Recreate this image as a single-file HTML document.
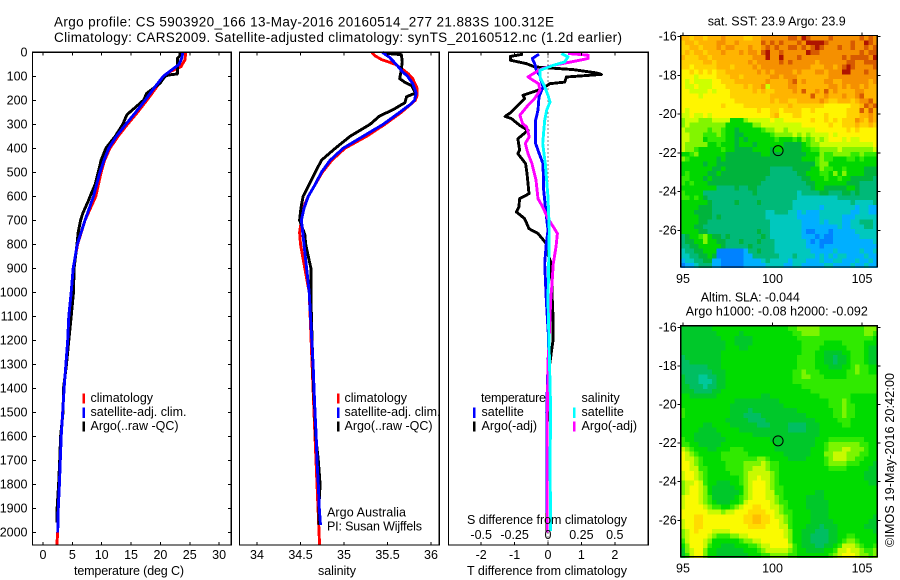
<!DOCTYPE html>
<html>
<head>
<meta charset="utf-8">
<title>Argo profile</title>
<style>
html,body{margin:0;padding:0;background:#fff}
svg{display:block}
text{font-family:"Liberation Sans",sans-serif;font-size:12.5px;fill:#000;dominant-baseline:central}
</style>
</head>
<body>
<svg id="chart" width="900" height="580" viewBox="0 0 900 580" xmlns="http://www.w3.org/2000/svg">
<rect x="0" y="0" width="900" height="580" fill="#fff"/>
<g id="maps"></g>
<g id="plots"></g>
<g id="axes"></g>
<text x="54" y="22" textLength="500" lengthAdjust="spacing" style="font-size:13.5px">Argo profile: CS 5903920_166 13-May-2016 20160514_277 21.883S 100.312E</text>
<text x="54" y="37.5" textLength="568" lengthAdjust="spacing" style="font-size:13.5px">Climatology: CARS2009. Satellite-adjusted climatology: synTS_20160512.nc (1.2d earlier)</text>
<text x="129" y="571" text-anchor="middle" textLength="110" lengthAdjust="spacing">temperature (deg C)</text>
<text x="337" y="571" text-anchor="middle" textLength="38" lengthAdjust="spacing">salinity</text>
<text x="547" y="571" text-anchor="middle" textLength="160" lengthAdjust="spacing">T difference from climatology</text>
<text x="547" y="520" text-anchor="middle" textLength="160" lengthAdjust="spacing">S difference from climatology</text>
<rect x="82.5" y="393.5" width="2.5" height="10" fill="#f00"/>
<rect x="82.5" y="407.5" width="2.5" height="10.5" fill="#00f"/>
<rect x="82.5" y="421.5" width="2.5" height="10" fill="#000"/>
<text x="90.5" y="398">climatology</text>
<text x="90.5" y="412" textLength="96" lengthAdjust="spacing">satellite-adj. clim.</text>
<text x="90.5" y="426" textLength="88" lengthAdjust="spacing">Argo(..raw -QC)</text>
<rect x="337" y="393.5" width="2.5" height="10" fill="#f00"/>
<rect x="337" y="407.5" width="2.5" height="10.5" fill="#00f"/>
<rect x="337" y="421.5" width="2.5" height="10" fill="#000"/>
<text x="344.5" y="398">climatology</text>
<text x="344.5" y="412" textLength="96" lengthAdjust="spacing">satellite-adj. clim.</text>
<text x="344.5" y="426" textLength="88" lengthAdjust="spacing">Argo(..raw -QC)</text>
<text x="327" y="512.5" textLength="79" lengthAdjust="spacing">Argo Australia</text>
<text x="327" y="526.5" textLength="95" lengthAdjust="spacing">PI: Susan Wijffels</text>
<text x="481" y="398" textLength="65" lengthAdjust="spacing">temperature</text>
<text x="481.5" y="412">satellite</text>
<text x="481.5" y="426">Argo(-adj)</text>
<text x="581.5" y="398">salinity</text>
<text x="581.5" y="412">satellite</text>
<text x="581.5" y="426">Argo(-adj)</text>
<rect x="473" y="407.5" width="2.5" height="10.5" fill="#00f"/>
<rect x="473" y="421.5" width="2.5" height="10" fill="#000"/>
<rect x="573" y="407.5" width="2.5" height="10.5" fill="#0ff"/>
<rect x="573" y="421.5" width="2.5" height="10" fill="#f0f"/>
<text x="776.7" y="21.7" text-anchor="middle" textLength="138" lengthAdjust="spacing">sat. SST: 23.9 Argo: 23.9</text>
<text x="750.3" y="297.3" text-anchor="middle" textLength="99" lengthAdjust="spacing">Altim. SLA: -0.044</text>
<text x="776.8" y="311.7" text-anchor="middle" textLength="182" lengthAdjust="spacing">Argo h1000: -0.08 h2000: -0.092</text>
<text transform="translate(890 460) rotate(-90)" text-anchor="middle" textLength="174" lengthAdjust="spacing">©IMOS 19-May-2016 20:42:00</text>
</svg>
<script>
// Axis ticks
const depthTicks = [0,100,200,300,400,500,600,700,800,900,1000,1100,1200,1300,1400,1500,1600,1700,1800,1900,2000];
const tempTicks = [0,5,10,15,20,25,30];
const salTicks = [34,34.5,35,35.5,36];
const tDiffTicks = [-2,-1,0,1,2];
const sDiffTicks = [-0.5,-0.25,0,0.25,0.5];
const lonTicks = [95,100,105];
const latTicks = [-16,-18,-20,-22,-24,-26];

// Temperature profiles
const climTempDepth = [0,30,60,80,100,150,200,250,300,350,400,450,500,600,700,800,900,1000,1200,1400,1600,1700,1800,1900,2000,2054];
const climTempValue = [24.3,24.2,23.5,21.7,20.6,19.2,17.7,16.1,14.4,12.8,11.4,10.5,9.9,9.0,7.15,5.9,5.15,4.8,4.2,3.6,3.1,2.85,2.7,2.5,2.5,2.35];
const argoTempDepth = [0,15,25,60,90,95,100,130,170,200,230,260,300,350,400,450,500,550,590,620,670,700,750,800,900,1000,1100,1200,1300,1400,1500,1600,1700,1800,1900,1960];
const argoTempValue = [23.3,23.3,22.9,22.9,22.9,21.3,20.8,19.9,17.7,17.1,15.7,14.3,13.6,12.3,10.7,9.9,9.4,8.9,8.2,7.7,6.8,6.4,6.0,5.8,5.3,5.2,4.8,4.4,4.0,3.5,3.4,3.0,2.85,2.65,2.4,2.4];
const satTempDepth = [0,20,50,70,100,150,200,250,300,350,400,450,500,600,700,800,900,1000,1100,1200,1300,1400,1500,1600,1700,1800,1900,2000];
const satTempValue = [23.8,23.7,23.2,22.1,20.5,18.9,17.4,15.8,14.1,12.5,11.2,10.4,9.7,8.6,7.15,5.85,5.15,4.8,4.4,4.2,3.9,3.6,3.35,3.1,2.95,2.8,2.6,2.5];

// Salinity profiles
const climSalDepth = [0,15,30,50,70,90,110,150,180,200,250,300,350,400,450,500,600,650,700,750,800,900,1000,1500,1800,2054];
const climSalValue = [35.32,35.36,35.43,35.59,35.67,35.74,35.79,35.84,35.84,35.82,35.66,35.47,35.26,35.01,34.86,34.75,34.59,34.53,34.51,34.49,34.5,34.55,34.6,34.655,34.69,34.72];
const argoSalDepth = [0,5,10,40,80,110,125,140,170,185,210,240,265,300,350,400,425,450,500,550,600,650,700,720,760,800,850,900,1000,1100,1400,1500,1600,1700,1800,1900,1970];
const argoSalValue = [35.49,35.5,35.66,35.67,35.655,35.64,35.7,35.78,35.82,35.72,35.7,35.56,35.41,35.3,35.07,34.9,34.82,34.74,34.67,34.6,34.53,34.505,34.49,34.51,34.55,34.56,34.59,34.62,34.62,34.625,34.65,34.665,34.675,34.705,34.725,34.71,34.71];
const satSalDepth = [0,20,50,80,100,130,170,200,215,250,300,350,400,450,500,550,600,650,700,750,800,900,1000,1100,1200,1300,1400,1500,1600,1700,1800,1900,1970];
const satSalValue = [35.44,35.52,35.6,35.67,35.73,35.79,35.83,35.81,35.77,35.64,35.45,35.22,34.99,34.84,34.74,34.67,34.59,34.54,34.51,34.525,34.54,34.57,34.6,34.615,34.63,34.645,34.655,34.667,34.68,34.69,34.705,34.716,34.73];

// Difference profiles
const argoTDiffDepth = [8,17,33,47,61,72,86,92,103,124,131,151,179,193,221,249,267,276,304,325,360,408,422,464,505,589,610,644,665,693,735,755,797,825,880,1033,1100,1200,1300,1400,1600,2000];
const argoTDiffValue = [-0.75,-1.13,-1.13,-0.65,-0.4,0.75,1.45,1.6,0.55,0.5,0.05,-0.15,-0.75,-0.7,-0.9,-1.1,-1.28,-1.1,-0.85,-0.6,-0.9,-0.85,-0.9,-0.67,-0.63,-0.57,-0.85,-0.87,-0.95,-0.7,-0.57,-0.3,-0.05,-0.05,0.1,0.13,0.15,0.15,0.05,0,-0.03,-0.03];
const satTDiffDepth = [8,26,47,75,96,144,186,241,283,380,415,464,575,658,741,797,880,1033,1200,1400,1500,2000];
const satTDiffValue = [-0.27,-0.47,-0.4,-0.35,-0.25,-0.15,-0.27,-0.3,-0.37,-0.37,-0.28,-0.15,-0.13,-0.07,0,-0.05,-0.1,-0.05,0.02,-0.02,-0.04,-0.02];
const argoSDiffDepth = [5,12,26,40,54,68,82,103,117,131,158,193,221,262,297,311,352,380,422,464,533,610,644,693,727,755,811,880,964,1033,1300,1500,2000];
const argoSDiffValue = [0.15,0.3,0.3,0.175,0.04,-0.04,-0.09,-0.15,-0.11,-0.07,-0.06,-0.1,-0.15,-0.21,-0.19,-0.16,-0.14,-0.17,-0.15,-0.12,-0.09,-0.075,-0.04,0,0.04,0.07,0.06,0.04,0.03,0.02,0,-0.005,-0.005];
const satSDiffDepth = [5,19,40,54,75,103,144,179,207,241,283,380,464,603,741,1033,1500,1700,1995];
const satSDiffValue = [0.1,0.15,0.125,0.04,-0.06,-0.06,-0.025,0,0.015,-0.01,-0.025,-0.04,-0.02,0,0.01,0,0.02,0.015,0.02];

// Argo float position
const floatLon = 100.312;
const floatLat = -21.883;

// Map colour levels (rows north to south, columns west to east)
const sstColors = ["#0082ff","#00afff","#00c8be","#00b978","#00b43c","#00d700","#32eb00","#82f500","#cdff00","#fff500","#ffd200","#ffb400","#f59000","#d75a00","#af1400"];
const slaColors = ["#0082ff","#00afff","#00c89a","#00be62","#00c82a","#00dc00","#30ea00","#7cf500","#c8fa00","#fafa00","#ffdc00","#ffbe00"];
const sstLevels = [
[11,11,10,11,11,10,11,11,11,12,11,11,11,11,10,10,11,11,12,12,12,12,12,12,13,13,12,14,13,12,12,12,12,13,12,12,12,12,12,12,13,12,13,12],
[10,11,11,10,11,11,11,11,12,12,11,11,12,11,11,11,11,11,13,12,13,12,13,12,12,12,13,12,14,14,14,14,13,12,12,12,12,12,13,12,12,14,13,12],
[10,10,11,11,10,11,11,11,12,11,12,12,11,11,11,12,11,11,12,13,12,13,12,12,13,13,12,13,12,13,14,13,12,12,12,13,12,12,13,12,12,13,12,13],
[10,11,10,11,11,10,11,11,11,12,11,11,11,12,11,12,12,11,13,14,12,12,13,12,12,12,12,12,14,13,13,12,12,12,12,12,12,12,12,12,13,12,13,13],
[11,10,10,10,11,11,10,11,11,11,11,11,11,11,11,11,12,12,12,14,12,12,14,12,12,12,13,12,12,12,12,12,12,12,12,12,13,12,13,13,13,13,12,14],
[10,10,10,10,10,11,11,10,11,11,11,11,11,11,11,12,11,12,12,12,12,12,13,12,13,12,12,12,12,12,11,12,12,12,12,12,12,13,13,12,12,13,13,13],
[10,10,9,10,10,10,10,10,11,11,11,10,11,11,11,11,12,11,12,12,12,12,12,12,12,12,12,12,12,11,11,11,12,12,11,12,13,14,13,12,12,12,12,13],
[9,9,10,9,10,9,10,9,10,10,11,11,11,11,11,11,11,12,11,12,11,12,12,12,12,11,12,11,11,11,12,12,11,12,12,12,14,14,12,12,12,13,12,12],
[9,9,9,8,9,9,9,9,10,10,10,11,11,10,11,11,11,11,11,11,12,12,11,12,12,12,11,11,11,11,11,11,11,12,12,12,12,12,12,12,12,12,12,12],
[9,8,9,8,8,8,8,9,9,10,10,10,11,11,11,11,11,11,11,12,11,11,11,11,12,13,11,12,11,11,11,11,12,12,11,11,12,12,12,12,12,12,11,12],
[9,8,8,9,8,8,8,9,9,9,10,10,10,10,11,10,11,11,12,8,11,11,11,11,12,12,11,11,11,11,11,11,11,12,12,11,12,11,12,12,11,12,11,11],
[9,9,8,8,8,8,9,8,9,9,9,10,10,10,10,10,11,10,11,10,10,11,11,11,11,12,11,13,11,11,12,11,13,11,12,11,11,11,11,12,12,11,11,11],
[9,9,9,9,8,9,9,9,9,9,9,10,10,10,10,10,10,10,10,10,11,11,11,11,11,11,11,11,11,13,11,11,12,11,11,11,12,11,11,12,13,11,11,11],
[9,9,9,9,9,9,9,9,9,9,9,9,10,10,10,10,10,10,10,10,11,10,11,11,10,10,11,11,11,11,11,12,11,10,10,11,11,11,10,11,12,12,13,11],
[9,9,9,9,9,9,9,9,9,10,9,9,9,9,10,10,10,10,10,10,10,10,10,10,11,10,10,10,10,10,10,10,9,9,9,9,9,9,10,10,11,13,12,13],
[9,8,9,9,9,9,9,9,9,9,9,9,9,9,9,9,9,10,9,9,10,10,9,10,10,10,10,9,9,10,9,9,9,9,9,9,9,10,10,10,13,11,13,11],
[8,8,9,8,8,9,8,9,9,9,9,9,9,9,9,9,9,9,9,9,10,11,9,9,9,10,10,9,9,9,9,9,10,9,9,9,9,10,10,10,11,11,12,11],
[7,8,8,8,7,7,7,8,8,8,8,5,5,5,7,8,8,8,8,8,9,8,8,9,9,9,9,9,9,10,9,9,10,9,10,9,10,10,10,12,11,10,12,11],
[7,8,7,7,7,7,7,7,7,7,5,5,5,5,5,5,7,7,8,8,8,8,8,8,8,8,8,9,9,9,9,9,9,10,9,9,10,10,10,11,10,10,11,10],
[8,7,7,7,7,7,6,7,7,6,5,5,4,5,5,5,5,5,6,7,7,8,8,7,8,8,8,8,8,8,9,9,9,9,9,9,9,10,9,10,9,9,9,9],
[8,8,7,7,7,6,6,6,7,6,5,5,4,4,5,5,5,5,5,5,6,7,7,7,7,8,7,8,7,8,8,8,8,9,8,9,9,9,9,9,9,9,9,9],
[8,8,7,7,7,5,6,6,6,6,5,5,4,5,4,5,5,5,5,5,5,6,5,5,5,6,5,7,6,7,8,7,8,9,9,9,8,9,8,8,9,9,9,9],
[8,7,7,7,7,7,5,5,6,5,5,5,4,5,5,5,4,5,5,5,5,5,5,4,4,4,4,5,6,7,7,8,8,8,8,8,8,8,8,8,8,8,8,9],
[8,7,7,6,5,5,5,5,5,6,5,5,4,4,4,4,5,5,5,5,4,5,5,4,4,4,4,5,5,6,6,7,7,7,7,8,7,7,7,7,7,7,7,8],
[5,5,6,7,5,5,5,5,5,5,4,4,4,4,4,4,4,4,5,5,4,4,4,4,4,4,4,4,5,5,5,7,6,6,7,7,7,7,6,6,7,6,6,6],
[7,6,5,5,5,5,5,5,4,5,4,4,4,4,4,4,4,4,4,4,4,4,4,4,4,4,4,5,5,5,6,7,6,6,5,5,5,6,6,5,6,5,5,5],
[5,5,5,5,5,4,5,5,4,4,4,4,4,4,4,4,4,4,4,4,4,4,4,4,4,4,4,4,4,4,6,7,7,5,5,5,5,5,5,5,5,5,5,5],
[5,5,5,5,5,5,5,4,4,5,4,4,4,4,4,4,4,4,4,4,3,3,3,3,3,4,4,4,4,5,5,7,6,6,5,5,6,5,5,5,5,4,4,4],
[5,6,5,5,5,5,4,4,5,4,4,4,4,4,4,4,4,4,4,4,3,3,3,3,3,3,4,4,5,5,5,6,6,5,7,5,7,5,5,5,5,4,4,4],
[6,6,5,5,5,4,5,4,4,4,4,4,4,4,4,4,4,4,4,3,3,3,3,3,3,3,3,4,4,5,5,5,6,5,5,6,5,5,4,4,4,4,4,3],
[6,5,6,5,5,5,4,4,4,4,4,4,4,4,4,4,4,4,3,3,3,3,3,3,3,3,3,3,4,4,5,5,5,5,5,5,5,4,4,4,3,3,3,3],
[5,5,5,5,5,5,5,5,3,3,3,3,4,3,3,4,4,3,3,3,3,3,3,3,3,3,3,3,3,4,5,5,4,4,4,4,4,5,5,4,3,3,3,3],
[6,5,5,5,5,3,3,3,3,3,3,3,3,3,3,3,4,3,3,3,3,3,3,3,3,3,2,3,3,3,3,4,4,3,3,3,4,4,3,4,3,3,3,3],
[6,6,5,6,5,4,3,3,3,3,3,3,3,3,3,3,3,3,3,3,3,3,3,3,3,3,2,2,2,2,2,2,2,2,2,3,3,3,3,3,3,3,3,3],
[5,5,5,5,5,5,4,3,3,3,3,3,4,3,3,3,3,4,3,3,3,3,3,3,3,2,2,2,2,2,2,2,2,2,2,2,2,2,3,2,2,2,2,3],
[5,5,5,5,4,4,4,3,3,3,3,3,3,3,3,3,3,3,3,3,3,3,3,3,3,2,2,2,2,2,2,1,2,2,2,2,2,2,2,1,2,2,1,1],
[5,5,5,4,4,4,4,3,3,3,3,3,3,3,3,3,3,3,3,2,2,3,3,3,2,2,1,2,1,1,1,2,2,2,2,2,2,2,1,1,2,2,1,1],
[5,5,5,5,4,4,4,3,4,3,3,3,3,3,3,3,3,3,3,2,2,2,2,2,2,2,1,1,1,1,1,2,2,2,2,2,1,1,1,2,2,2,2,2],
[5,5,5,5,4,4,3,3,3,3,3,3,3,3,3,3,3,3,3,3,2,2,2,2,2,2,2,1,1,1,1,2,1,2,2,2,1,1,2,2,3,3,3,2],
[5,5,5,4,4,3,3,3,3,3,3,3,3,3,3,3,3,3,3,3,2,2,2,2,2,2,2,1,1,1,1,1,1,1,1,2,1,1,2,2,2,3,3,2],
[5,5,5,5,4,4,3,3,3,3,3,3,3,3,3,3,3,4,3,3,2,2,2,2,2,2,2,1,0,0,1,1,1,0,1,1,1,1,1,2,2,2,2,2],
[3,4,5,5,6,7,5,4,4,3,4,3,3,3,3,3,3,3,4,3,2,2,2,2,2,2,2,1,1,1,0,1,0,0,1,1,1,1,1,1,2,2,2,2],
[3,4,4,5,5,7,5,5,4,4,3,3,3,4,3,3,3,4,3,3,3,2,2,2,2,2,2,2,1,0,1,0,0,0,1,1,1,1,1,1,1,1,1,2],
[3,3,4,4,5,5,5,5,5,4,3,3,3,3,3,4,3,3,3,3,3,2,2,2,2,2,2,2,1,1,1,0,1,1,1,1,1,1,1,1,1,1,1,1],
[2,3,3,4,4,5,5,5,0,0,0,0,0,0,1,3,3,4,3,3,3,2,2,2,2,2,2,2,2,1,1,1,1,1,2,1,1,1,1,1,2,1,1,2],
[2,2,3,3,4,4,5,4,0,0,0,0,0,0,1,1,3,3,3,3,3,3,2,2,2,3,2,2,2,2,1,2,1,2,1,2,2,1,1,1,1,2,1,1],
[1,2,2,3,3,4,4,1,1,0,0,0,0,0,1,1,1,1,2,3,2,2,2,2,1,2,2,2,1,1,1,2,1,1,2,2,1,1,1,2,1,1,2,1],
[0,1,1,2,3,3,3,1,1,0,0,0,0,0,1,1,1,1,1,2,2,2,2,1,1,2,2,1,1,1,1,1,2,2,1,1,1,1,2,1,1,2,1,1]
];
const slaLevels = [
[4,4,4,4,4,4,4,5,5,5,5,5,5,5,5,5,5,5,5,5,5,5,5,5,6,6,7,7,7,7,7,6,6,6,6,6,6,6,6,6,6,7,7,7],
[4,4,4,4,4,4,4,4,5,5,5,5,5,4,5,5,5,5,5,5,5,5,5,5,5,6,6,7,7,7,7,6,6,6,6,6,6,6,6,6,6,7,7,6],
[4,4,4,4,4,4,4,4,4,5,5,5,4,4,4,4,5,5,5,5,5,5,5,5,5,5,6,6,6,6,6,6,6,6,6,6,6,6,6,6,6,6,6,5],
[4,4,4,4,4,4,4,4,4,4,5,5,4,4,4,4,5,5,5,5,5,5,5,5,5,5,5,6,6,6,6,6,5,5,5,5,6,6,6,6,6,5,5,5],
[4,4,4,4,4,4,4,4,4,4,5,5,5,4,4,5,5,5,5,5,5,5,5,5,5,5,5,6,6,6,6,5,5,5,5,5,5,6,6,6,6,5,4,4],
[4,4,4,4,4,4,4,4,4,5,5,5,5,5,5,5,5,5,5,5,5,5,5,5,5,5,5,6,6,6,5,5,4,4,4,4,5,5,6,6,6,5,4,4],
[3,4,4,4,4,4,4,4,4,5,5,5,5,5,5,5,5,5,5,5,5,5,5,5,5,5,6,6,6,6,5,5,4,4,3,4,4,5,6,6,6,5,4,4],
[3,3,4,4,4,4,4,4,4,5,5,5,5,5,5,5,5,5,5,5,5,5,5,5,5,5,6,6,6,6,5,5,4,4,3,4,4,5,6,6,6,5,4,4],
[3,3,3,3,3,3,4,4,4,5,5,5,5,5,5,5,5,5,5,5,5,5,5,5,5,5,6,6,6,6,5,5,5,4,4,4,5,5,6,7,6,6,5,5],
[3,3,3,3,3,3,3,4,4,4,5,5,5,5,5,5,5,5,5,5,5,5,5,5,5,6,6,7,6,6,6,5,5,5,5,5,5,6,6,7,6,6,5,5],
[4,3,3,3,2,2,3,3,4,4,5,5,5,5,5,5,5,5,5,5,5,5,5,5,5,6,6,7,7,6,6,6,5,5,5,5,5,6,6,6,6,6,6,6],
[4,3,3,3,2,2,2,3,4,4,5,5,5,5,5,5,5,5,5,5,5,5,5,5,5,6,6,6,6,6,6,6,6,6,6,6,6,6,6,6,6,6,6,6],
[4,4,3,3,3,2,3,3,4,4,5,5,5,5,5,5,5,5,5,5,5,5,5,5,5,5,5,6,6,6,6,6,6,6,6,6,6,6,6,6,6,6,6,6],
[4,4,4,3,3,3,3,4,4,5,5,5,5,5,5,5,5,5,5,5,5,5,5,5,5,5,5,5,5,6,6,6,6,6,6,6,6,6,6,6,6,6,6,6],
[5,5,4,4,4,4,4,4,5,5,5,5,5,5,5,5,5,5,4,4,5,5,5,5,5,5,5,5,5,5,5,6,6,6,6,6,6,6,5,5,5,5,5,5],
[5,5,5,5,5,5,5,5,5,5,5,5,4,4,4,4,4,4,4,4,4,4,5,5,5,5,5,5,5,5,5,5,5,6,6,6,7,6,5,5,5,5,5,5],
[5,5,5,5,5,5,5,5,5,5,5,4,4,4,4,4,4,4,4,4,4,4,4,5,5,5,5,5,5,5,5,5,5,6,6,6,7,6,6,5,5,5,5,5],
[6,5,5,5,5,5,5,5,5,5,5,4,4,4,4,3,4,4,4,4,4,4,4,4,4,4,5,5,5,5,5,5,5,5,6,6,7,6,6,5,5,5,5,5],
[6,5,5,5,5,5,5,5,5,5,5,4,4,4,3,3,3,3,4,4,4,4,4,4,4,4,4,4,5,5,5,5,5,5,6,6,7,6,6,5,5,5,5,5],
[5,5,5,5,5,5,5,5,5,5,4,4,4,4,4,3,3,3,3,4,4,4,4,4,4,4,4,4,4,4,5,5,5,5,5,6,6,6,5,5,5,5,5,5],
[5,5,5,5,5,4,4,5,5,5,5,4,4,4,4,4,4,3,3,3,4,4,4,4,3,3,3,3,4,4,4,5,5,5,5,5,6,6,5,5,5,5,5,5],
[5,5,5,5,4,4,4,4,5,5,5,5,5,4,4,4,4,4,4,4,4,4,4,4,3,3,3,3,4,4,4,5,5,5,5,5,5,5,5,5,5,5,5,5],
[5,5,5,4,4,4,4,4,4,5,5,5,5,5,5,5,4,4,4,4,4,4,4,4,4,4,4,4,4,4,4,5,5,5,5,5,5,5,5,5,5,5,5,5],
[6,5,5,4,4,4,4,4,4,4,5,5,5,5,5,5,5,5,5,5,4,4,4,4,4,4,4,4,4,4,5,5,5,6,6,6,6,6,6,6,6,5,5,5],
[6,6,5,5,4,4,4,4,4,5,5,5,5,5,5,5,5,5,5,5,5,4,4,4,4,4,4,4,4,4,5,5,6,7,7,7,7,7,7,7,6,6,5,5],
[8,7,6,5,5,5,4,4,5,5,5,6,6,6,5,5,5,5,5,5,5,4,4,4,4,4,4,4,4,5,5,5,6,7,7,7,8,8,7,7,7,6,5,5],
[9,8,7,6,5,5,5,5,5,6,6,6,6,6,6,5,5,5,5,5,5,5,5,4,4,4,4,4,4,5,5,5,7,7,8,8,8,7,7,7,6,6,5,5],
[9,8,8,7,6,5,5,5,5,6,6,6,6,6,6,6,6,7,7,6,5,5,5,5,4,4,4,4,5,5,5,5,6,7,8,8,8,7,7,6,6,5,5,5],
[9,9,8,7,6,5,5,5,5,5,6,6,6,6,7,7,7,7,8,7,6,6,5,5,5,5,5,5,5,5,5,5,6,7,7,7,7,6,6,6,5,5,5,4],
[9,9,8,8,6,6,5,5,5,5,6,6,6,6,7,7,8,8,8,7,6,6,5,5,5,5,5,5,5,5,5,5,5,6,6,6,6,5,5,5,5,5,4,4],
[8,9,9,8,7,6,5,5,5,5,5,6,6,6,7,8,8,8,8,8,7,6,5,5,5,5,5,5,5,5,5,5,5,5,5,5,5,5,5,5,5,4,4,4],
[8,9,9,8,7,6,5,5,5,5,5,5,5,6,7,8,8,9,8,8,7,6,5,5,5,5,5,5,5,5,5,5,5,5,5,5,5,5,5,5,5,4,4,4],
[7,8,8,9,8,6,5,5,4,4,4,5,5,6,7,8,9,9,9,8,7,6,5,5,5,5,5,5,5,5,5,5,5,5,5,5,5,5,5,5,5,5,4,4],
[7,8,9,9,8,7,5,4,4,4,4,4,5,5,7,8,9,9,9,8,7,6,6,5,5,5,5,5,5,5,5,5,5,5,5,5,5,5,5,5,5,5,5,5],
[7,8,9,9,8,7,5,4,4,4,4,4,4,5,7,8,9,9,9,8,8,6,6,5,5,5,5,5,5,5,4,4,5,5,5,5,5,5,5,5,5,5,5,5],
[8,9,9,9,8,7,6,4,4,4,4,4,5,6,7,8,9,9,9,8,8,7,6,5,5,5,5,5,4,4,4,4,5,5,5,5,5,5,5,5,5,5,5,5],
[8,9,9,9,8,7,6,5,4,4,4,5,5,6,8,9,9,9,9,9,8,7,6,6,5,5,5,5,4,4,4,4,4,5,5,5,5,5,5,5,5,5,5,5],
[8,9,9,9,9,8,7,6,6,5,5,6,7,8,9,9,10,10,9,9,8,8,7,6,5,5,5,5,4,4,4,4,4,5,5,5,5,5,5,5,5,5,5,5],
[9,9,9,9,9,9,8,8,8,7,8,8,9,9,9,10,10,10,10,9,9,8,7,6,6,5,5,5,5,4,4,4,4,5,5,5,5,5,5,5,5,5,5,5],
[9,9,9,10,10,9,9,9,9,9,9,9,9,9,10,10,11,11,10,10,9,8,8,7,6,5,5,5,5,4,4,4,4,5,5,5,5,5,5,5,5,5,5,4],
[8,9,9,10,10,9,9,9,9,9,9,9,9,9,10,10,11,11,10,10,9,9,8,7,6,5,5,5,5,4,4,4,4,4,5,5,5,5,5,5,5,5,4,4],
[8,9,9,10,10,9,9,9,9,9,9,9,9,9,9,10,10,10,10,9,9,9,8,8,6,5,5,5,4,4,4,3,4,4,4,5,5,5,5,5,5,4,4,4],
[7,8,9,10,9,9,9,8,8,8,8,9,9,9,9,9,9,9,9,9,9,9,9,8,7,5,5,4,4,4,3,3,3,4,4,5,5,5,5,5,5,5,5,4],
[7,8,9,9,9,9,8,7,6,6,6,7,7,8,8,9,9,9,9,9,9,9,9,8,7,5,5,4,4,3,3,3,3,4,4,5,5,6,6,5,5,5,5,5],
[6,8,9,9,9,8,7,5,5,5,5,5,5,6,7,7,8,8,9,9,9,9,9,9,7,5,5,4,4,3,3,3,3,4,4,5,6,7,7,6,5,5,5,5],
[5,7,9,9,9,8,6,5,5,4,4,4,5,5,5,6,6,7,8,8,9,9,9,9,8,6,5,4,4,4,3,3,4,4,5,6,8,8,8,7,6,5,5,6],
[4,7,8,9,9,7,5,5,4,4,4,4,4,4,5,5,5,6,7,8,8,8,8,8,7,6,5,5,4,4,4,4,5,5,6,8,8,9,8,8,7,6,6,7],
[4,6,8,9,9,7,5,5,4,4,4,4,4,4,4,5,5,5,6,6,7,7,7,7,6,6,5,5,5,5,5,5,5,6,7,8,9,9,9,8,7,7,6,7]
];

const SVGNS = "http://www.w3.org/2000/svg";
const yDepth = d => 52.3 + 0.24 * d;
const xTemp = t => 43 + 5.87 * t;
const xSal = s => 257 + 87 * (s - 34);
const xTDiff = t => 548 + 33.4 * t;
const xSDiff = s => 548 + 133.6 * s;
const xLon = lon => 683 + 17.9 * (lon - 95);
const yLatTop = lat => 36.7 + 19.37 * (-16 - lat);
const yLatBottom = lat => 327.3 + 19.3 * (-16 - lat);

function make(tag, attrs, parent, text) {
  const el = document.createElementNS(SVGNS, tag);
  for (const k in attrs) el.setAttribute(k, attrs[k]);
  if (text !== undefined) el.textContent = text;
  parent.appendChild(el);
  return el;
}
const plots = document.getElementById("plots");
const axes = document.getElementById("axes");
const maps = document.getElementById("maps");

function drawLine(xs, ys, xf, color, name, width) {
  const pts = xs.map((v, i) => xf(v).toFixed(1) + "," + yDepth(ys[i]).toFixed(1)).join(" ");
  const el = make("polyline", {points: pts, fill: "none", stroke: color, "stroke-width": width || 2.9, "stroke-linejoin": "round", "shape-rendering": "crispEdges"}, plots);
  
  
}

function tickLine(x1, y1, x2, y2) {
  const el = make("line", {x1: x1, y1: y1, x2: x2, y2: y2, stroke: "#000", "stroke-width": 1, "shape-rendering": "crispEdges"}, axes);
  
  
}
function tickText(x, y, anchor, str) {
  const el = make("text", {x: x, y: y, "text-anchor": anchor}, axes, str);
  
  
}
function frame(x0, y0, x1, y1, name) {
  const el = make("rect", {x: x0, y: y0, width: x1 - x0, height: y1 - y0, fill: "none", stroke: "#000", "stroke-width": 1.2, "shape-rendering": "crispEdges"}, axes);
  
  
}

const panelTop = 52.3, panelBottom = 545;
[[32.5, 231.3, tempTicks, xTemp, "temperature-panel-frame"], [239.5, 439.3, salTicks, xSal, "salinity-panel-frame"], [448.5, 648.3, tDiffTicks, xTDiff, "difference-panel-frame"]].forEach(p => {
  frame(p[0], panelTop, p[1], panelBottom, p[4]);
  p[2].forEach(t => {
    tickLine(p[3](t), panelTop, p[3](t), panelTop + 3);
    tickLine(p[3](t), panelBottom - 3, p[3](t), panelBottom);
    tickText(p[3](t), 555, "middle", String(t));
  });
});
depthTicks.forEach(d => {
  tickLine(32.5, yDepth(d), 36, yDepth(d));
  tickLine(228, yDepth(d), 231.3, yDepth(d));
  tickText(27.5, yDepth(d), "end", String(d));
});
sDiffTicks.forEach(s => tickText(xSDiff(s), 535, "middle", String(s)));

// zero reference
const zeroLine = make("line", {x1: xTDiff(0), y1: panelTop, x2: xTDiff(0), y2: panelBottom, stroke: "#000", "stroke-width": 1, "stroke-dasharray": "1 3", "shape-rendering": "crispEdges"}, plots);



drawLine(climTempValue, climTempDepth, xTemp, "#f00", "temperature-climatology-line");
drawLine(argoTempValue, argoTempDepth, xTemp, "#000", "temperature-argo-line");
drawLine(satTempValue, satTempDepth, xTemp, "#00f", "temperature-satellite-line");
drawLine(climSalValue, climSalDepth, xSal, "#f00", "salinity-climatology-line");
drawLine(argoSalValue, argoSalDepth, xSal, "#000", "salinity-argo-line");
drawLine(satSalValue, satSalDepth, xSal, "#00f", "salinity-satellite-line");
drawLine(argoTDiffValue, argoTDiffDepth, xTDiff, "#000", "t-difference-argo-line");
drawLine(satTDiffValue, satTDiffDepth, xTDiff, "#00f", "t-difference-satellite-line");
drawLine(argoSDiffValue, argoSDiffDepth, xSDiff, "#f0f", "s-difference-argo-line");
drawLine(satSDiffValue, satSDiffDepth, xSDiff, "#0ff", "s-difference-satellite-line");

function drawMap(levels, colors, yLat, name, x0, y0, x1, y1) {
  const g = make("g", {}, maps);
  
  
  const lonStart = 94.871, latStart = -15.94, step = 0.25;
  levels.forEach((row, r) => row.forEach((v, c) => {
    const xa = xLon(lonStart + c * step), xb = xLon(lonStart + (c + 1) * step);
    const ya = yLat(latStart - r * step), yb = yLat(latStart - (r + 1) * step);
    const cell = make("rect", {x: xa.toFixed(2), y: ya.toFixed(2), width: (xb - xa).toFixed(2), height: (yb - ya).toFixed(2), fill: colors[v], "shape-rendering": "crispEdges"}, g);
    
    
  }));
  frame(x0, y0, x1, y1, name + "-frame");
  lonTicks.forEach(lon => {
    tickLine(xLon(lon), y0 - 3, xLon(lon), y0);
    tickText(xLon(lon), y1 + 12, "middle", String(lon));
  });
  latTicks.forEach(lat => {
    tickLine(x0 - 3, yLat(lat), x0, yLat(lat));
    tickLine(x1, yLat(lat), x1 + 3, yLat(lat));
    tickText(x0 - 4, yLat(lat), "end", String(lat));
  });
  const marker = make("circle", {cx: xLon(floatLon), cy: yLat(floatLat), r: 5, fill: "none", stroke: "#000", "stroke-width": 1}, axes);
  
  
}
drawMap(sstLevels, sstColors, yLatTop, "sst-map", 680.7, 35.5, 877.3, 267);
drawMap(slaLevels, slaColors, yLatBottom, "sla-map", 680.7, 325.7, 877.3, 556.7);
</script>
</body>
</html>
